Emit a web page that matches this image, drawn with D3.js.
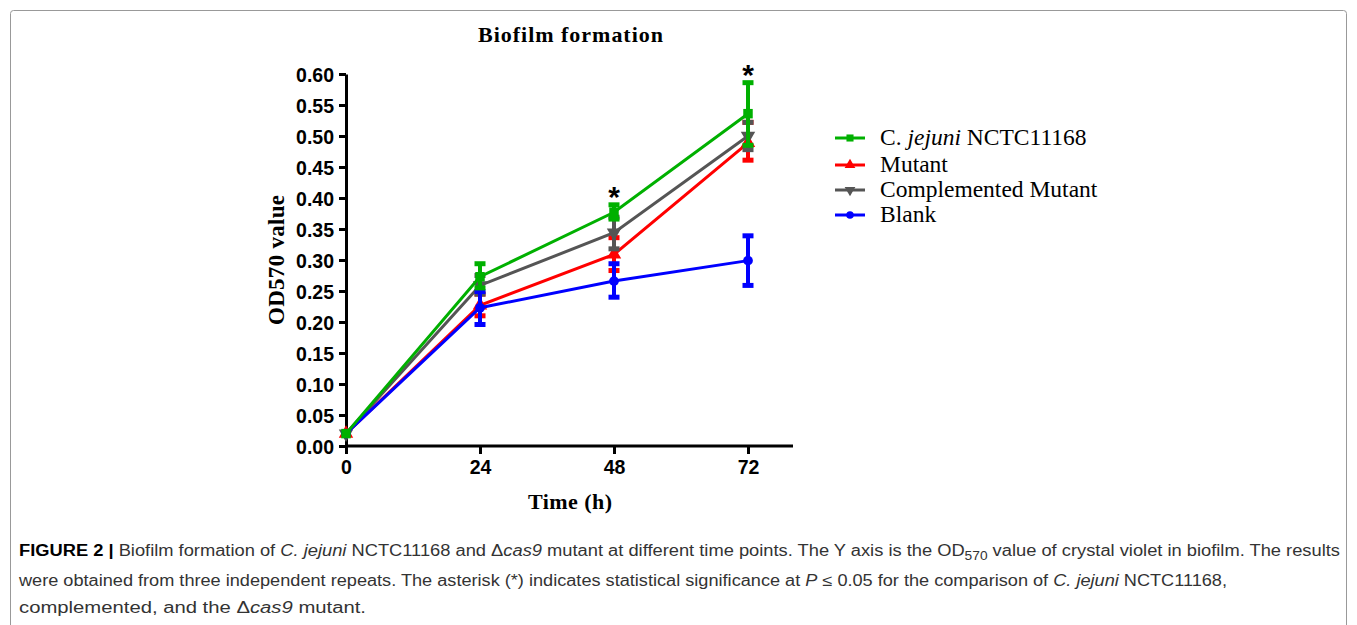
<!DOCTYPE html>
<html><head><meta charset="utf-8">
<script src="https://cdn.jsdelivr.net/npm/d3@7"></script>
<style>body{margin:0;background:#fff}</style>
</head><body>
<svg id="c" width="1357" height="625"></svg>
<script>
const times = [0, 24, 48, 72];
const xTicks = [0, 24, 48, 72];
const yTicks = [0,0.05,0.10,0.15,0.20,0.25,0.30,0.35,0.40,0.45,0.50,0.55,0.60];
const seriesNames = ["C. jejuni NCTC11168", "Mutant", "Complemented Mutant", "Blank"];
const wildMean = [0.02, 0.273, 0.377, 0.536];
const wildLo   = [0.018, 0.255, 0.366, 0.485];
const wildHi   = [0.022, 0.294, 0.389, 0.586];
const mutMean  = [0.02, 0.227, 0.309, 0.489];
const mutLo    = [0.018, 0.210, 0.283, 0.461];
const mutHi    = [0.022, 0.245, 0.336, 0.522];
const compMean = [0.02, 0.259, 0.344, 0.500];
const compLo   = [0.018, 0.245, 0.318, 0.478];
const compHi   = [0.022, 0.275, 0.369, 0.522];
const blankMean= [0.02, 0.223, 0.266, 0.299];
const blankLo  = [0.018, 0.196, 0.240, 0.259];
const blankHi  = [0.022, 0.249, 0.294, 0.339];
const starTimes = [48, 72];
const starValues = [0.389, 0.586];

const colors = ["#00b000", "#ff0000", "#555555", "#0000ff"];
const symbols = [d3.symbolSquare, d3.symbolTriangle, d3.symbolTriangle, d3.symbolCircle];
const rot = [0, 0, 180, 0];
const series = [
  {name: seriesNames[0], mean: wildMean, lo: wildLo, hi: wildHi},
  {name: seriesNames[1], mean: mutMean, lo: mutLo, hi: mutHi},
  {name: seriesNames[2], mean: compMean, lo: compLo, hi: compHi},
  {name: seriesNames[3], mean: blankMean, lo: blankLo, hi: blankHi}
];
const drawOrder = [1, 2, 3, 0];

const svg = d3.select("#c");
svg.append("rect").attr("x",10.5).attr("y",10.5).attr("width",1336).attr("height",640)
  .attr("fill","none").attr("stroke","#999").attr("stroke-width",1).attr("rx",3);

const x = d3.scaleLinear().domain([0, 72]).range([346, 748]);
const y = d3.scaleLinear().domain([0, 0.6]).range([446, 74]);
const xEnd = 793;
const serif = "'Liberation Serif', 'Times New Roman', serif";
const sans = "'Liberation Sans', Arial, sans-serif";

const g = svg.append("g");
const yAx = g.append("g").attr("transform","translate(346,0)")
  .call(d3.axisLeft(y).tickValues(yTicks).tickFormat(d3.format(".2f")).tickSize(7).tickSizeOuter(0));
const xAx = g.append("g").attr("transform","translate(0,446)")
  .call(d3.axisBottom(x).tickValues(xTicks).tickSize(8).tickSizeOuter(0));
[yAx, xAx].forEach(a => {
  a.select(".domain").attr("stroke","#000").attr("stroke-width",3);
  a.selectAll(".tick line").attr("stroke","#000").attr("stroke-width",3);
  a.selectAll(".tick text").attr("font-family",sans)
    .attr("font-weight","bold").attr("font-size",19.5).attr("fill","#000");
});
xAx.select(".domain").attr("d", `M346,0H${xEnd}`);
yAx.selectAll(".tick text").attr("x",-12).attr("dy","0.36em");
xAx.selectAll(".tick text").attr("y",14).attr("dy","0.71em");

svg.append("text").attr("x",478).attr("y",42)
  .attr("font-family",serif).attr("font-weight","bold")
  .attr("font-size",22).attr("textLength",185).attr("lengthAdjust","spacing").text("Biofilm formation");
svg.append("text").attr("transform","translate(284,260) rotate(-90)").attr("text-anchor","middle")
  .attr("font-family",serif).attr("font-weight","bold")
  .attr("font-size",23).attr("textLength",130).attr("lengthAdjust","spacing").text("OD570 value");
svg.append("text").attr("x",528).attr("y",509)
  .attr("font-family",serif).attr("font-weight","bold")
  .attr("font-size",22).attr("textLength",84).attr("lengthAdjust","spacing").text("Time (h)");

const line = d3.line().x((d,k)=>x(times[k])).y(d=>y(d));
drawOrder.forEach(si => {
  const s = series[si];
  const sg = g.append("g");
  sg.append("path").datum(s.mean).attr("d", line).attr("fill","none")
    .attr("stroke", colors[si]).attr("stroke-width",3);
  times.forEach((t,k) => {
    if (t === 0) return;
    sg.append("line").attr("x1",x(t)).attr("x2",x(t)).attr("y1",y(s.lo[k])).attr("y2",y(s.hi[k]))
      .attr("stroke",colors[si]).attr("stroke-width",4);
    [s.lo[k], s.hi[k]].forEach(v => sg.append("line").attr("x1",x(t)-5.5).attr("x2",x(t)+5.5)
      .attr("y1",y(v)).attr("y2",y(v)).attr("stroke",colors[si]).attr("stroke-width",5));
  });
  times.forEach((t,k) => {
    sg.append("path").attr("d", d3.symbol().type(symbols[si]).size(si===3?75:90)())
      .attr("transform",`translate(${x(t)},${y(s.mean[k])}) rotate(${rot[si]})`)
      .attr("fill",colors[si]);
  });
});

starTimes.forEach((t,k) => {
  svg.append("text").attr("x",x(t)).attr("y",y(starValues[k]) + 2).attr("text-anchor","middle")
    .attr("font-family",sans).attr("font-weight","bold").attr("font-size",30).text("*");
});

const legY = [138, 165, 190, 215];
[0,1,2,3].forEach(si => {
  const ly = legY[si];
  svg.append("line").attr("x1",835).attr("x2",865).attr("y1",ly).attr("y2",ly)
    .attr("stroke",colors[si]).attr("stroke-width",3);
  svg.append("path").attr("d", d3.symbol().type(symbols[si]).size(si===3?45:50)())
    .attr("transform",`translate(850,${ly}) rotate(${rot[si]})`).attr("fill",colors[si]);
  const t = svg.append("text").attr("x",880).attr("y",ly+7)
    .attr("font-family",serif).attr("font-size",23.5).attr("fill","#000");
  if (si === 0) {
    t.append("tspan").text("C. ");
    t.append("tspan").attr("font-style","italic").text("jejuni");
    t.append("tspan").text(" NCTC11168");
  } else t.text(seriesNames[si]);
});

const capFont = "'Liberation Sans Narrow', 'Liberation Sans', Arial, sans-serif";
const c1 = svg.append("text").attr("x",19).attr("y",556).attr("font-family",capFont).attr("font-size",16)
  .attr("fill","#333").attr("textLength",1321).attr("lengthAdjust","spacingAndGlyphs");
c1.append("tspan").attr("font-weight","bold").attr("fill","#000").text("FIGURE 2 | ");
c1.append("tspan").text("Biofilm formation of ");
c1.append("tspan").attr("font-style","italic").text("C. jejuni");
c1.append("tspan").text(" NCTC11168 and \u0394");
c1.append("tspan").attr("font-style","italic").text("cas9");
c1.append("tspan").text(" mutant at different time points. The Y axis is the OD");
c1.append("tspan").attr("font-size",12).attr("dy",4).text("570");
c1.append("tspan").attr("dy",-4).text(" value of crystal violet in biofilm. The results");
const c2 = svg.append("text").attr("x",19).attr("y",586).attr("font-family",capFont).attr("font-size",16)
  .attr("fill","#333").attr("textLength",1208).attr("lengthAdjust","spacingAndGlyphs");
c2.append("tspan").text("were obtained from three independent repeats. The asterisk (*) indicates statistical significance at ");
c2.append("tspan").attr("font-style","italic").text("P");
c2.append("tspan").text(" \u2264 0.05 for the comparison of ");
c2.append("tspan").attr("font-style","italic").text("C. jejuni");
c2.append("tspan").text(" NCTC11168,");
const c3 = svg.append("text").attr("x",19).attr("y",613).attr("font-family",capFont).attr("font-size",16)
  .attr("fill","#333").attr("textLength",347).attr("lengthAdjust","spacingAndGlyphs");
c3.append("tspan").text("complemented, and the \u0394");
c3.append("tspan").attr("font-style","italic").text("cas9");
c3.append("tspan").text(" mutant.");
</script>
</body></html>
